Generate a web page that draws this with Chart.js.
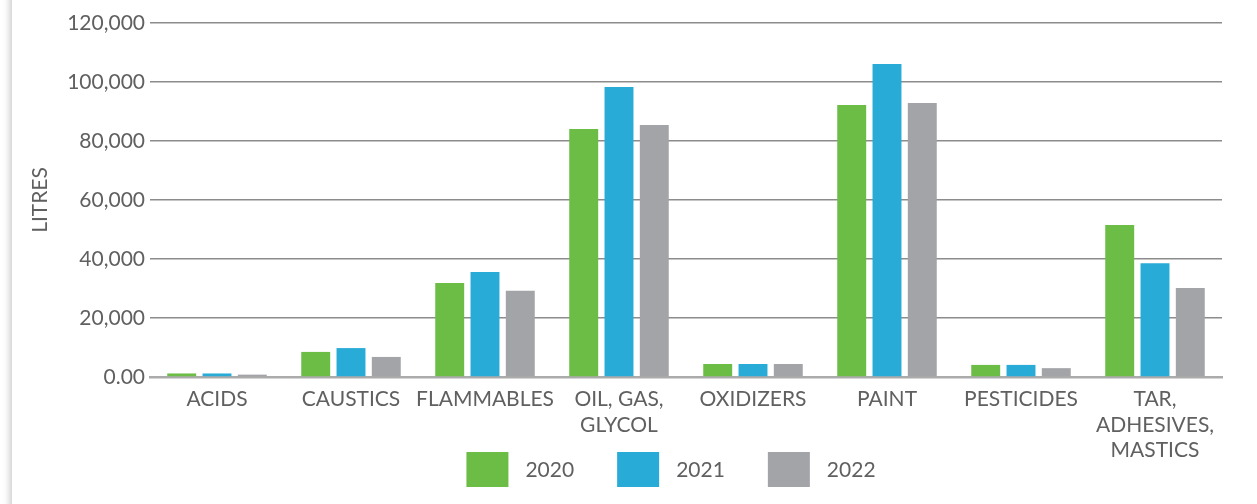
<!DOCTYPE html>
<html>
<head>
<meta charset="utf-8">
<script src="https://cdn.jsdelivr.net/npm/chart.js@4"></script>
<style>
    html, body { margin: 0; padding: 0; background: #fff; }
    body { width: 1257px; height: 504px; position: relative; overflow: hidden; }
    .card {
        position: absolute; left: 12px; top: -40px; width: 1300px; height: 600px;
        background: #fff; box-shadow: -2px 0 7px rgba(0, 0, 0, 0.22);
    }
    #waste-chart { position: absolute; left: 0; top: 0; }
</style>
</head>
<body>
<div class="card"></div>
<canvas id="waste-chart" width="1257" height="504"></canvas>
<script>
    // Household hazardous waste collected, litres per year
    const categories = [
        'ACIDS', 'CAUSTICS', 'FLAMMABLES', ['OIL, GAS,', 'GLYCOL'],
        'OXIDIZERS', 'PAINT', 'PESTICIDES', ['TAR,', 'ADHESIVES,', 'MASTICS']
    ];
    const years = ['2020', '2021', '2022'];
    const litres2020 = [1200, 8500, 31900, 84100, 4400, 92200, 4100, 51500];
    const litres2021 = [1200, 9800, 35600, 98300, 4400, 106100, 4100, 38600];
    const litres2022 = [800, 6800, 29200, 85400, 4400, 92900, 3000, 30200];
    const yTicks = [0, 20000, 40000, 60000, 80000, 100000, 120000];

    const textColor = '#606060';
    const fontFamily = 'Lato, "Noto Sans", sans-serif';

    // legend row under the axis labels: big square swatches, wide spacing
    const swatchLegend = {
        id: 'swatchLegend',
        afterDraw(chart) {
            const c = chart.ctx;
            const sets = chart.data.datasets;
            const boxW = 42, boxH = 35, textGap = 17, itemGap = 43;
            c.save();
            c.font = '21px ' + fontFamily;
            const widths = sets.map(ds => c.measureText(ds.label).width);
            let total = 0;
            widths.forEach((w, i) => { total += boxW + textGap + w + (i < widths.length - 1 ? itemGap : 0); });
            const area = chart.chartArea;
            let x = (area.left + area.right) / 2 - 15 - total / 2;
            const top = area.bottom + 75;
            c.textBaseline = 'middle';
            c.textAlign = 'left';
            sets.forEach((ds, i) => {
                c.fillStyle = ds.backgroundColor;
                c.fillRect(x, top, boxW, boxH);
                c.fillStyle = textColor;
                c.fillText(ds.label, x + boxW + textGap, top + boxH / 2 + 1);
                x += boxW + textGap + widths[i] + itemGap;
            });
            c.restore();
        }
    };

    const ctx = document.getElementById('waste-chart').getContext('2d');
    const chart = new Chart(ctx, {
        type: 'bar',
        data: {
            labels: categories,
            datasets: [
                { label: years[0], data: litres2020, backgroundColor: '#6cbd45' },
                { label: years[1], data: litres2021, backgroundColor: '#29abd7' },
                { label: years[2], data: litres2022, backgroundColor: '#a3a4a8' }
            ]
        },
        options: {
            responsive: false,
            animation: false,
            categoryPercentage: 0.79,
            barPercentage: 0.82,
            layout: { padding: { top: 23, right: 35, bottom: 27, left: 0 } },
            plugins: {
                tooltip: { enabled: false },
                legend: { display: false }
            },
            scales: {
                x: {
                    grid: { display: false, drawTicks: false },
                    border: { color: '#ababab', width: 2.5 },
                    ticks: {
                        color: textColor,
                        padding: 10,
                        maxRotation: 0,
                        autoSkip: false,
                        font: { family: fontFamily, size: 21, lineHeight: 1.2 }
                    },
                    afterFit: function(scale) { scale.height = 100; }
                },
                y: {
                    min: 0,
                    max: 120000,
                    afterBuildTicks: function(scale) {
                        scale.ticks = yTicks.map(v => ({ value: v }));
                    },
                    grid: { color: '#8c8c8c', lineWidth: 1.5, drawTicks: false },
                    border: { display: false },
                    ticks: {
                        color: textColor,
                        padding: 5,
                        font: { family: fontFamily, size: 21 },
                        callback: function(value) {
                            return value === 0 ? '0.00' : value.toLocaleString('en-US');
                        }
                    },
                    title: {
                        display: true,
                        text: 'LITRES',
                        color: textColor,
                        padding: { top: 28, bottom: 0 },
                        font: { family: fontFamily, size: 21 }
                    },
                    afterFit: function(scale) { scale.width = 150; }
                }
            }
        },
        plugins: [swatchLegend]
    });
</script>
</body>
</html>
